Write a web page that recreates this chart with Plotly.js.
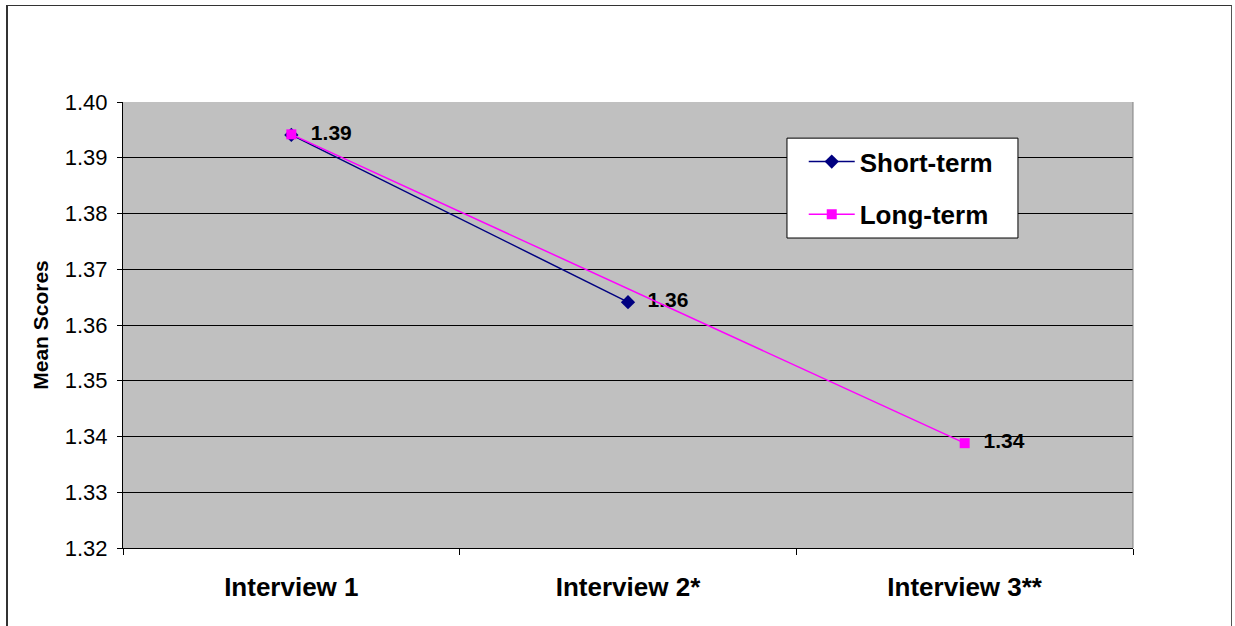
<!DOCTYPE html>
<html>
<head>
<meta charset="utf-8">
<script src="https://cdn.plot.ly/plotly-3.0.1.min.js"></script>
<style>
  html, body { margin: 0; padding: 0; background: #fff; }
  #wrap { position: relative; width: 1235px; height: 626px; }
  #chart { width: 1235px; height: 626px; }
  #frame { position: absolute; left: 6px; top: 5px; width: 1226px; height: 640px;
           border-left: 2px solid #333; border-top: 1px solid #333; border-right: 1px solid #555;
           pointer-events: none; box-sizing: border-box; }
</style>
</head>
<body>
<div id="wrap">
  <div id="chart"></div>
  <div id="frame"></div>
</div>
<script>
const categories = ["Interview 1", "Interview 2*", "Interview 3**"];
const shortTerm = [1.3941, 1.3641, null];
const longTerm = [1.3942, null, 1.3388];
const shortLabels = ["1.39", "1.36", ""];
const longLabels = ["", "", "1.34"];
const yTicks = [1.32, 1.33, 1.34, 1.35, 1.36, 1.37, 1.38, 1.39, 1.40];

const labelFont = { family: "Arial, 'Liberation Sans', sans-serif", size: 21, color: "#000", weight: "bold" };

const traces = [
  {
    type: "scatter", mode: "lines+markers+text", name: "Short-term",
    x: categories, y: shortTerm, text: shortLabels, texttemplate: "  %{text}",
    textposition: "middle right",
    textfont: labelFont, legendgroup: "a",
    line: { color: "#000080", width: 1.5 },
    marker: { symbol: "diamond", size: 11, color: "#000080" },
    hoverinfo: "skip"
  },
  {
    type: "scatter", mode: "lines+markers+text", name: "Long-term",
    x: categories, y: longTerm, text: longLabels, texttemplate: "  %{text}",
    textposition: "middle right",
    textfont: labelFont, connectgaps: true, legendgroup: "b",
    line: { color: "#FF00FF", width: 1.5 },
    marker: { symbol: "square", size: 10, color: "#FF00FF" },
    hoverinfo: "skip"
  }
];

const layout = {
  width: 1235, height: 626,
  margin: { l: 123, r: 102, t: 102, b: 78 },
  paper_bgcolor: "#ffffff",
  plot_bgcolor: "#C0C0C0",
  font: { family: "Arial, 'Liberation Sans', sans-serif", color: "#000" },
  showlegend: true,
  legend: {
    x: 0.674, y: 0.919, xanchor: "left", yanchor: "top",
    bgcolor: "rgba(0,0,0,0)", borderwidth: 0,
    font: { size: 26, weight: "bold", color: "#000" },
    itemwidth: 46, tracegroupgap: 16,
    traceorder: "grouped"
  },
  xaxis: {
    type: "category", range: [-0.5, 2.5],
    tickson: "boundaries", ticks: "outside", ticklen: 6, tickcolor: "#000",
    showline: true, linecolor: "#000", linewidth: 1,
    showgrid: false, zeroline: false,
    tickfont: { size: 26, weight: "bold", color: "#000" },
    ticklabelstandoff: 16
  },
  yaxis: {
    range: [1.32, 1.40], tickvals: yTicks, tickformat: ".2f",
    ticks: "outside", ticklen: 5, tickcolor: "#000",
    showline: true, linecolor: "#000", linewidth: 1,
    showgrid: true, gridcolor: "#000", gridwidth: 1, zeroline: false,
    tickfont: { size: 22, color: "#000" },
    ticklabelstandoff: 5,
    title: { text: "Mean Scores", font: { size: 21, weight: "bold", color: "#000" }, standoff: 10 }
  },
  shapes: [
    { type: "line", xref: "paper", yref: "paper", x0: 1, x1: 1, y0: 0, y1: 1,
      line: { color: "#808080", width: 1 } },
    { type: "rect", xref: "paper", yref: "paper", x0: 0.6574, x1: 0.8861, y0: 0.695, y1: 0.919,
      fillcolor: "#ffffff", line: { color: "#000", width: 1 }, layer: "above" }
  ],
  hovermode: false
};

Plotly.newPlot("chart", traces, layout, { displayModeBar: false, staticPlot: true });
</script>
</body>
</html>
